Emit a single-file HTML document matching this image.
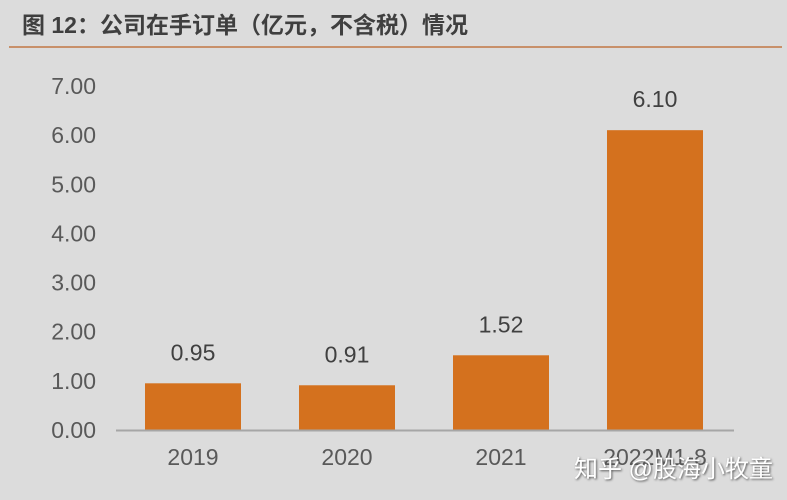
<!DOCTYPE html>
<html><head><meta charset="utf-8"><style>
html,body{margin:0;padding:0;background:#dcdcdc;}
body{width:787px;height:500px;position:relative;overflow:hidden;font-family:"Liberation Sans","Noto Sans CJK SC",sans-serif;}
#title{position:absolute;left:22px;top:6px;font-size:23px;font-weight:bold;color:#3f3f3f;font-family:"Liberation Sans","Noto Sans CJK SC",sans-serif;}
#rule{position:absolute;left:9px;top:46px;width:773px;height:2px;background:#c8906a;}
#wm{position:absolute;left:574px;top:449px;font-size:24px;color:#fff;text-shadow:1px 1px 2px #555;font-family:"Liberation Sans","Noto Sans CJK SC",sans-serif;}
</style></head><body>
<div id="title">图 12：公司在手订单（亿元，不含税）情况</div>
<div id="rule"></div>
<svg id="chart" width="787" height="500" style="position:absolute;left:0;top:0"></svg>
<div id="wm">知乎 @股海小牧童</div>
<script>
const categories=["2019","2020","2021","2022M1-8"];
const values=[0.95,0.91,1.52,6.10];
const valueLabels=["0.95","0.91","1.52","6.10"];
const yTicks=[0,1,2,3,4,5,6,7];
const svg=document.getElementById('chart');
const NS='http://www.w3.org/2000/svg';
const y0=430,pxPer=49.15,x0=118,step=154,barW=96;
const yScale=v=>y0-v*pxPer;
const xCenter=i=>x0+75+i*step;
function mk(t,a){const e=document.createElementNS(NS,t);for(const k in a)e.setAttribute(k,a[k]);svg.appendChild(e);return e;}
yTicks.forEach(t=>{const e=mk('text',{x:96,y:yScale(t)+8,'text-anchor':'end','font-size':23,fill:'#595959'});
e.textContent=t.toFixed(2);

});
values.forEach((v,i)=>{const cx=xCenter(i);
const r=mk('rect',{x:cx-barW/2,y:yScale(v),width:barW,height:y0-yScale(v),fill:'#d4711e'});


const l=mk('text',{x:cx,y:yScale(v)-23,'text-anchor':'middle','font-size':23,fill:'#404040'});
l.textContent=valueLabels[i];


const c=mk('text',{x:cx,y:465,'text-anchor':'middle','font-size':23,fill:'#595959'});
c.textContent=categories[i];

});
const ax=mk('line',{x1:116,x2:734,y1:y0+0.5,y2:y0+0.5,stroke:'#a6a6a6','stroke-width':2});


</script>
</body></html>
